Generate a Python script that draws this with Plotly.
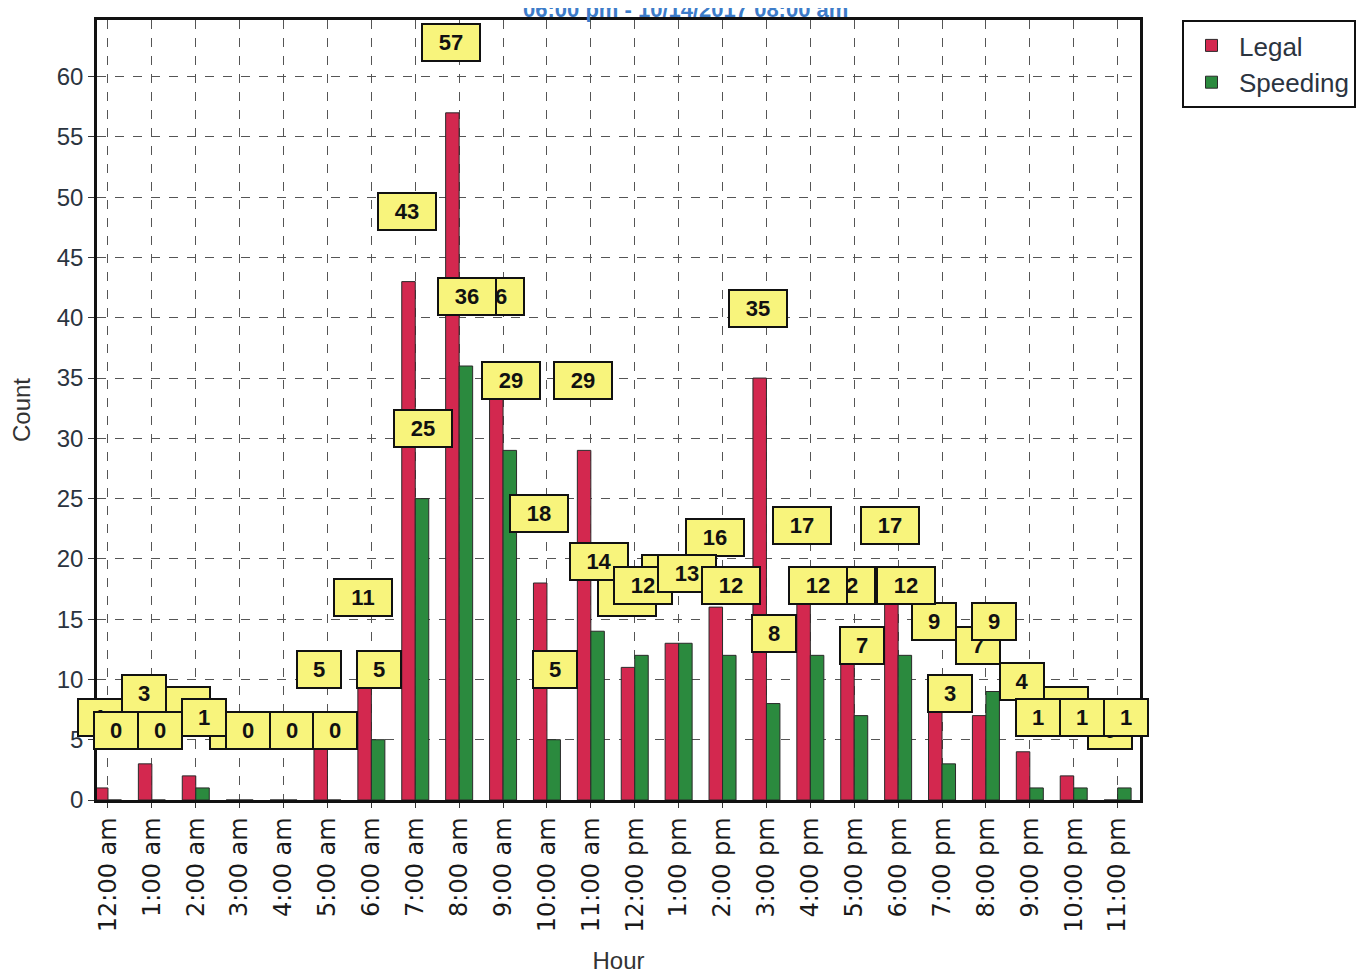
import plotly.graph_objects as go

hours = ["12:00 am", "1:00 am", "2:00 am", "3:00 am", "4:00 am", "5:00 am",
         "6:00 am", "7:00 am", "8:00 am", "9:00 am", "10:00 am", "11:00 am",
         "12:00 pm", "1:00 pm", "2:00 pm", "3:00 pm", "4:00 pm", "5:00 pm",
         "6:00 pm", "7:00 pm", "8:00 pm", "9:00 pm", "10:00 pm", "11:00 pm"]
legal = [1, 3, 2, 0, 0, 5, 11, 43, 57, 36, 18, 29, 11, 13, 16, 35, 17, 12, 17, 9, 7, 4, 2, 0]
speeding = [0, 0, 1, 0, 0, 0, 5, 25, 36, 29, 5, 14, 12, 13, 12, 8, 12, 7, 12, 3, 9, 1, 1, 1]
y_ticks = list(range(0, 61, 5))
title_text = "06:00 pm - 10/14/2017 08:00 am"

RED = "#d3284f"
GREEN = "#2b8a3e"
FONT = "Liberation Sans"

# page body adds an 8px offset; margins compensate for it
ML, MR, MT, MB = 89, 232, 12, 180
PLOT_W = 1364 - ML - MR
PLOT_H = 972 - MT - MB

fig = go.Figure()
fig.add_trace(go.Bar(x=hours, y=legal, name="Legal",
                     marker=dict(color=RED, line=dict(color="#2a2a2a", width=1))))
fig.add_trace(go.Bar(x=hours, y=speeding, name="Speeding",
                     marker=dict(color=GREEN, line=dict(color="#2a2a2a", width=1))))

annotations = []
for series, shift in ((legal, -8), (speeding, 8)):
    for h, v in zip(hours, series):
        txt = str(v)
        annotations.append(dict(
            x=h, y=v, xref="x", yref="y", text="<b>%s</b>" % txt, showarrow=False,
            xshift=shift, yshift=70, yanchor="middle", xanchor="center",
            width=40 if len(txt) == 1 else 54, height=33,
            bgcolor="#f8f47c", bordercolor="#111111", borderwidth=2, borderpad=1,
            font=dict(family=FONT, size=22, color="#111111")))

# title fragment at the top edge (partly cut off in the reference)
annotations.append(dict(
    x=(842 - ML) / PLOT_W, xref="paper", y=1 + (MT - 1) / PLOT_H, yref="paper",
    text="<b>%s</b>" % title_text, showarrow=False, xanchor="right", yanchor="middle",
    font=dict(family=FONT, size=22, color="#3d7cc9")))

fig.update_layout(
    width=1364, height=972,
    margin=dict(l=ML, r=MR, t=MT, b=MB),
    paper_bgcolor="white", plot_bgcolor="white",
    barmode="group", bargap=0.385, bargroupgap=0.0,
    font=dict(family=FONT, color="#222222"),
    annotations=annotations,
    legend=dict(x=(1174 - ML) / PLOT_W, xanchor="left", xref="paper",
                y=1.0, yref="paper", yanchor="top",
                bgcolor="white", bordercolor="#111111", borderwidth=2,
                font=dict(family=FONT, size=26, color="#2b3440"),
                itemwidth=45, tracegroupgap=0),
    xaxis=dict(
        range=[-0.25, 23.51], tickangle=-90, automargin=False,
        tickfont=dict(family="DejaVu Sans", size=24, color="#1a1a1a"),
        showline=True, linecolor="#111111", linewidth=2.5, mirror=True,
        ticks="outside", ticklen=5, tickcolor="#333333",
        showgrid=True, gridcolor="#555555", griddash="dash", gridwidth=1,
        title=dict(text="Hour", font=dict(family=FONT, size=24, color="#333333"), standoff=21),
    ),
    yaxis=dict(
        range=[0, 64.7], tickvals=y_ticks, automargin=False,
        tickfont=dict(family=FONT, size=24, color="#2b3440"),
        showline=True, linecolor="#111111", linewidth=2.5, mirror=True,
        ticks="outside", ticklen=6, tickcolor="#333333",
        showgrid=True, gridcolor="#555555", griddash="dash", gridwidth=1,
        zeroline=False,
        title=dict(text="Count", font=dict(family=FONT, size=24, color="#333333"), standoff=22),
    ),
)

fig.write_html("out.html")
